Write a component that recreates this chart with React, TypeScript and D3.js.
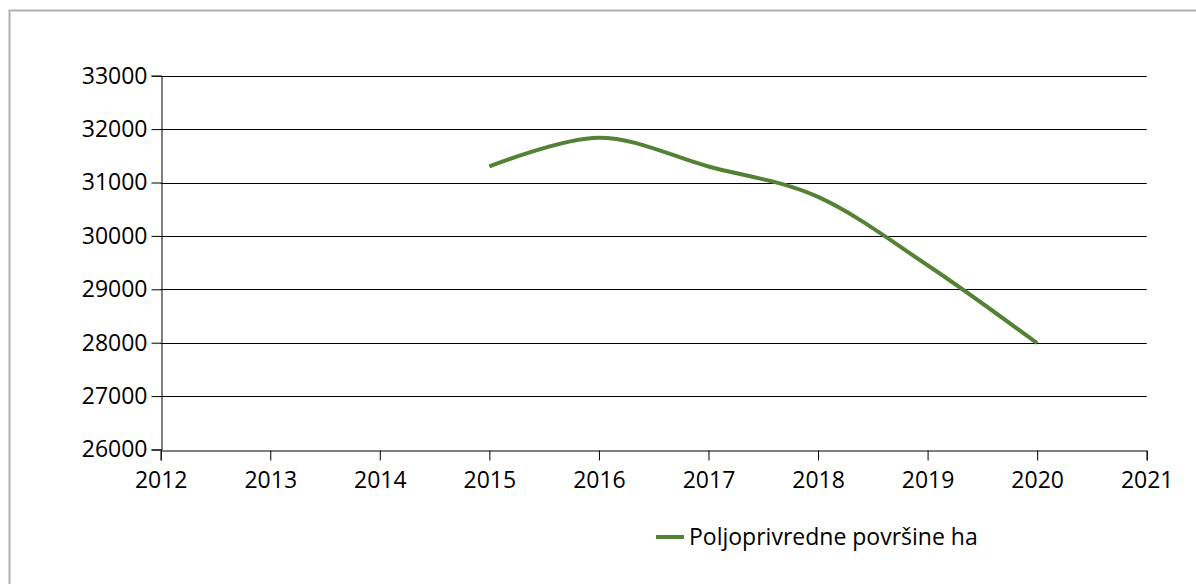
import * as d3 from 'd3'
import { useEffect, useRef } from 'react'

const years = [2015, 2016, 2017, 2018, 2019, 2020]
const values = [31300, 31840, 31300, 30730, 29450, 27990]
const xTicks = [2012, 2013, 2014, 2015, 2016, 2017, 2018, 2019, 2020, 2021]
const yTicks = [26000, 27000, 28000, 29000, 30000, 31000, 32000, 33000]
const seriesName = 'Poljoprivredne površine ha'

const W = 1196
const H = 584
const FONT = '"Open Sans", sans-serif'

export default function App() {
  const ref = useRef<SVGSVGElement>(null)
  useEffect(() => {
    const svg = d3.select(ref.current)
    svg.selectAll('*').remove()
    const plot = { left: 160.7, right: 1146.7, top: 75.7, bottom: 449.5 }
    const x = d3.scaleLinear().domain([2012, 2021]).range([plot.left, plot.right])
    const y = d3.scaleLinear().domain([26000, 33000]).range([plot.bottom, plot.top])

    // outer frame
    svg.append('rect').attr('x', 9.5).attr('y', 10.5).attr('width', W).attr('height', H)
      .attr('fill', 'none').attr('stroke', '#b0b0b0').attr('stroke-width', 2)

    // grid lines
    svg.append('g').selectAll('line').data(yTicks.slice(1)).enter().append('line')
      .attr('x1', plot.left).attr('x2', plot.right)
      .attr('y1', d => Math.round(y(d)) + 0.5).attr('y2', d => Math.round(y(d)) + 0.5)
      .attr('stroke', '#000').attr('stroke-width', 1)

    // y axis
    const yAxis = d3.axisLeft(y).tickValues(yTicks).tickSize(10).tickPadding(4).tickFormat(d => String(d))
    const gy = svg.append('g').attr('transform', `translate(${Math.round(plot.left) + 0.5},0)`).call(yAxis)
    gy.select('.domain').attr('stroke', '#000')
    gy.selectAll('.tick line').attr('stroke', '#000')
    gy.selectAll('.tick text').attr('font-family', FONT).attr('font-size', 23).attr('fill', '#000')

    // x axis
    const xAxis = d3.axisBottom(x).tickValues(xTicks).tickSize(10).tickPadding(11).tickFormat(d => String(d))
    const gx = svg.append('g').attr('transform', `translate(0,${Math.round(plot.bottom) + 0.5})`).call(xAxis)
    gx.select('.domain').attr('stroke', '#000')
    gx.selectAll('.tick line').attr('stroke', '#000')
    gx.selectAll('.tick text').attr('font-family', FONT).attr('font-size', 23).attr('fill', '#000')

    // series line
    const line = d3.line<number>()
      .x((d, i) => x(years[i]))
      .y(d => y(d))
      .curve(d3.curveCardinal.tension(0))
    svg.append('path').datum(values).attr('d', line)
      .attr('fill', 'none').attr('stroke', '#548235').attr('stroke-width', 4)

    // legend
    svg.append('line').attr('x1', 656).attr('x2', 684).attr('y1', 537).attr('y2', 537)
      .attr('stroke', '#548235').attr('stroke-width', 4)
    svg.append('text').attr('x', 689).attr('y', 545).text(seriesName)
      .attr('font-family', FONT).attr('font-size', 23).attr('fill', '#000')
  }, [])
  return (
    <svg ref={ref} width={W} height={H}
      style={{ position: 'absolute', left: 0, top: 0, background: '#fff' }} />
  )
}
